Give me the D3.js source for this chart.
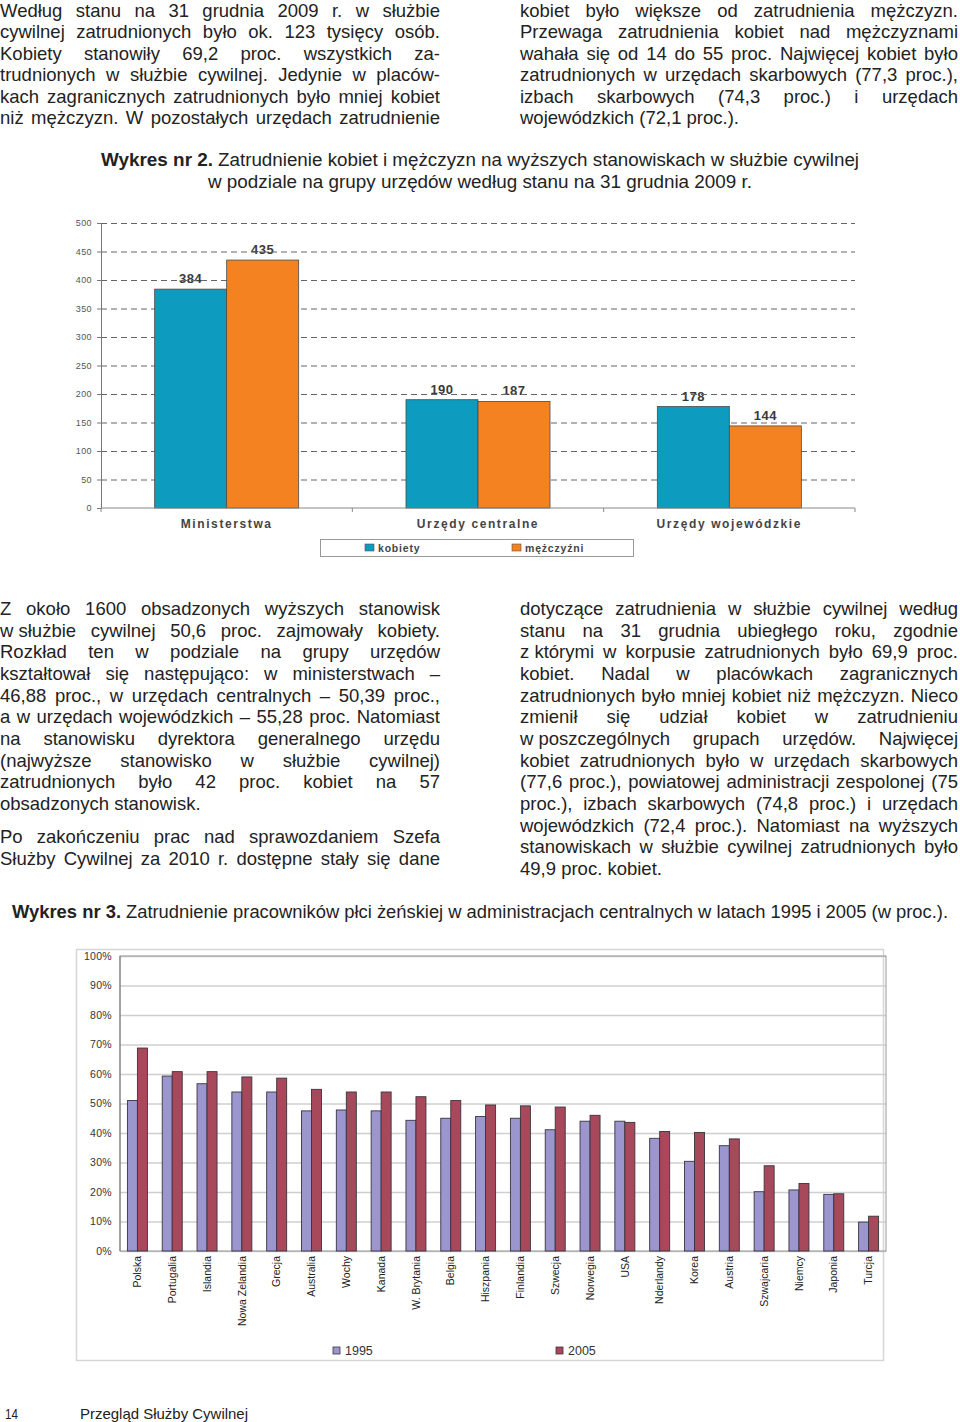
<!DOCTYPE html>
<html>
<head>
<meta charset="utf-8"/>
<title>Wykres nr 2 i 3</title>
<script src="https://cdn.jsdelivr.net/npm/d3@7"></script>
<style>
body { margin: 0; background: #fff; }
svg { display: block; font-family: "Liberation Sans", Arial, sans-serif; }
.body { font-size: 18.5px; fill: #222; }
.cond { font-family: "Liberation Sans Narrow", "Liberation Sans", Arial, sans-serif; fill: #222; }
</style>
</head>
<body>
<script>
// Wykres nr 2 - dane
var groups = ["Ministerstwa", "Urzędy centralne", "Urzędy wojewódzkie"];
var kobiety = [384, 190, 178];
var mezczyzni = [435, 187, 144];
var series2 = ["kobiety", "mężczyźni"];

// Wykres nr 3 - dane (proc.)
var countries = ["Polska", "Portugalia", "Islandia", "Nowa Zelandia", "Grecja", "Australia", "Wochy", "Kanada",
  "W. Brytania", "Belgia", "Hiszpania", "Finlandia", "Szwecja", "Norwegia", "USA", "Nderlandy", "Korea",
  "Austria", "Szwajcaria", "Niemcy", "Japonia", "Turcja"];
var y1995 = [51.0, 59.3, 56.7, 53.9, 53.9, 47.5, 47.8, 47.5, 44.3, 45.0, 45.6, 45.0, 41.1, 44.0, 44.0, 38.2, 30.4, 35.7, 20.1, 20.7, 19.2, 9.8];
var y2005 = [68.8, 60.8, 60.8, 59.0, 58.6, 54.8, 53.9, 53.9, 52.3, 51.0, 49.5, 49.2, 48.8, 46.0, 43.6, 40.5, 40.2, 38.0, 28.9, 22.9, 19.4, 11.8];
var years = ["1995", "2005"];

// tekst strony
var topLeft = [
  "Według stanu na 31 grudnia 2009 r. w służbie",
  "cywilnej zatrudnionych było ok. 123 tysięcy osób.",
  "Kobiety stanowiły 69,2 proc. wszystkich za-",
  "trudnionych w służbie cywilnej. Jedynie w placów-",
  "kach zagranicznych zatrudnionych było mniej kobiet",
  "niż mężczyzn. W pozostałych urzędach zatrudnienie"];
var topRight = [
  "kobiet było większe od zatrudnienia mężczyzn.",
  "Przewaga zatrudnienia kobiet nad mężczyznami",
  "wahała się od 14 do 55 proc. Najwięcej kobiet było",
  "zatrudnionych w urzędach skarbowych (77,3 proc.),",
  "izbach skarbowych (74,3 proc.) i urzędach",
  "wojewódzkich (72,1 proc.)."];
var midLeft = [
  "Z około 1600 obsadzonych wyższych stanowisk",
  "w\u00a0służbie cywilnej 50,6 proc. zajmowały kobiety.",
  "Rozkład ten w podziale na grupy urzędów",
  "kształtował się następująco: w ministerstwach –",
  "46,88 proc., w urzędach centralnych – 50,39 proc.,",
  "a w urzędach wojewódzkich – 55,28 proc. Natomiast",
  "na stanowisku dyrektora generalnego urzędu",
  "(najwyższe stanowisko w służbie cywilnej)",
  "zatrudnionych było 42 proc. kobiet na 57",
  "obsadzonych stanowisk."];
var midLeft2 = [
  "Po zakończeniu prac nad sprawozdaniem Szefa",
  "Służby Cywilnej za 2010 r. dostępne stały się dane"];
var midRight = [
  "dotyczące zatrudnienia w służbie cywilnej według",
  "stanu na 31 grudnia ubiegłego roku, zgodnie",
  "z\u00a0którymi w korpusie zatrudnionych było 69,9 proc.",
  "kobiet. Nadal w placówkach zagranicznych",
  "zatrudnionych było mniej kobiet niż mężczyzn. Nieco",
  "zmienił się udział kobiet w zatrudnieniu",
  "w\u00a0poszczególnych grupach urzędów. Najwięcej",
  "kobiet zatrudnionych było w urzędach skarbowych",
  "(77,6 proc.), powiatowej administracji zespolonej (75",
  "proc.), izbach skarbowych (74,8 proc.) i urzędach",
  "wojewódzkich (72,4 proc.). Natomiast na wyższych",
  "stanowiskach w służbie cywilnej zatrudnionych było",
  "49,9 proc. kobiet."];

var svg = d3.select("body").append("svg")
  .attr("width", 960)
  .attr("height", 1422);

var measure = svg.append("text").attr("class", "body").attr("x", -1000).attr("y", -1000);
function wordWidth(w) {
  measure.text(w);
  return measure.node().getComputedTextLength();
}

// justowane linie tekstu
function block(lines, x0, width, y0, lh, last) {
  lines.forEach(function(line, i) {
    var t = svg.append("text").attr("class", "body").attr("y", y0 + i * lh);
    if (last.indexOf(i) >= 0) { t.attr("x", x0).text(line); return; }
    var words = line.split(" ");
    var ws = words.map(wordWidth);
    var gap = (width - d3.sum(ws)) / (words.length - 1);
    var pos = [], cx = x0;
    ws.forEach(function(w) { pos.push(cx); cx += w + gap; });
    t.selectAll("tspan").data(words).join("tspan")
      .attr("x", function(d, j) { return pos[j]; })
      .text(function(d) { return d; });
  });
}

block(topLeft, 0, 440, 17, 21.4, []);
block(topRight, 520, 438, 17, 21.4, [5]);
block(midLeft, 0, 440, 615, 21.67, [9]);
block(midLeft2, 0, 440, 843.3, 21.67, []);
block(midRight, 520, 438, 615, 21.67, [12]);

// tytuly (krój zwężony)
function cond(txt, x, y, len, bold, size) {
  svg.append("text").attr("class", "cond")
    .attr("x", x).attr("y", y)
    .attr("font-size", size || 17.5)
    .attr("font-weight", bold ? "bold" : "normal")
    .attr("textLength", len).attr("lengthAdjust", "spacingAndGlyphs")
    .text(txt);
}
cond("Wykres nr 2.", 101, 166, 112, true);
cond("Zatrudnienie kobiet i mężczyzn na wyższych stanowiskach w służbie cywilnej", 218, 166, 641, false);
cond("w podziale na grupy urzędów według stanu na 31 grudnia 2009 r.", 208, 188, 544, false);
cond("Wykres nr 3.", 12, 918, 109, true);
cond("Zatrudnienie pracowników płci żeńskiej w administracjach centralnych w latach 1995 i 2005 (w proc.).", 126, 918, 822, false);

// ---------- Wykres nr 2 ----------
var color2 = d3.scaleOrdinal().domain(series2).range(["#0d9bbf", "#f58220"]);
var x2 = d3.scaleBand().domain(groups).range([101, 855]).paddingInner(0.427).paddingOuter(0.2135);
var xi2 = d3.scaleBand().domain(series2).range([0, x2.bandwidth()]);
var y2 = d3.scaleLinear().domain([0, 500]).range([508, 223]);

var rows2 = groups.map(function(g, i) {
  return { group: g, vals: [{ s: "kobiety", v: kobiety[i] }, { s: "mężczyźni", v: mezczyzni[i] }] };
});

var c2 = svg.append("g");

// etykiety wartosci (pod liniami siatki, jak w oryginale)
rows2.forEach(function(r) {
  c2.selectAll(null).data(r.vals).enter().append("text")
    .attr("x", function(d) { return x2(r.group) + xi2(d.s) + xi2.bandwidth() / 2; })
    .attr("y", function(d) { return y2(d.v) - 6; })
    .attr("text-anchor", "middle")
    .attr("font-size", 13).attr("font-weight", "bold").attr("letter-spacing", 0.5)
    .attr("fill", "#3a3a3a")
    .text(function(d) { return d.v; });
});

// siatka
c2.append("g")
  .attr("transform", "translate(101,0)")
  .call(d3.axisLeft(y2).ticks(10).tickSize(-754).tickFormat(""))
  .call(function(g) { g.select(".domain").remove(); })
  .call(function(g) {
    g.selectAll(".tick line").attr("stroke", "#666").attr("stroke-dasharray", "6,4")
      .filter(function(d) { return d === 0; }).remove();
  });

// slupki
rows2.forEach(function(r) {
  c2.selectAll(null).data(r.vals).enter().append("rect")
    .attr("x", function(d) { return x2(r.group) + xi2(d.s); })
    .attr("y", function(d) { return y2(d.v); })
    .attr("width", xi2.bandwidth())
    .attr("height", function(d) { return y2(0) - y2(d.v); })
    .attr("fill", function(d) { return color2(d.s); })
    .attr("stroke", "#4a4a4a").attr("stroke-width", 0.8);
});

// os Y
c2.append("g")
  .attr("transform", "translate(101,0)")
  .call(d3.axisLeft(y2).ticks(10).tickSize(4).tickPadding(5))
  .call(function(g) {
    g.select(".domain").attr("stroke", "#777");
    g.selectAll(".tick line").attr("stroke", "#777");
    g.selectAll("text").attr("font-size", 9).attr("fill", "#555").attr("letter-spacing", 0.4)
      .attr("font-family", "Liberation Sans, Arial, sans-serif");
  });

// os X
c2.append("line").attr("x1", 101).attr("x2", 855).attr("y1", y2(0)).attr("y2", y2(0))
  .attr("stroke", "#888");
c2.selectAll(".xb").data(d3.range(0, groups.length + 1)).enter().append("line")
  .attr("x1", function(i) { return x2.range()[0] + i * x2.step(); })
  .attr("x2", function(i) { return x2.range()[0] + i * x2.step(); })
  .attr("y1", y2(0)).attr("y2", y2(0) + 4)
  .attr("stroke", "#888");
c2.selectAll(".xl").data(groups).enter().append("text")
  .attr("x", function(d) { return x2(d) + x2.bandwidth() / 2; })
  .attr("y", 528)
  .attr("text-anchor", "middle")
  .attr("font-size", 12).attr("font-weight", "bold").attr("letter-spacing", 1.6)
  .attr("fill", "#444")
  .text(function(d) { return d; });

// legenda
c2.append("rect").attr("x", 320.5).attr("y", 539.5).attr("width", 313).attr("height", 17)
  .attr("fill", "none").attr("stroke", "#999");
var leg2 = c2.selectAll(".lg").data(series2).enter().append("g")
  .attr("transform", function(d, i) { return "translate(" + [365, 512][i] + ",544)"; });
leg2.append("rect").attr("width", 9).attr("height", 7)
  .attr("fill", function(d) { return color2(d); }).attr("stroke", "#555").attr("stroke-width", 0.6);
leg2.append("text").attr("x", 13).attr("y", 7.5)
  .attr("font-size", 10.5).attr("font-weight", "bold").attr("letter-spacing", 0.8)
  .attr("fill", "#444")
  .text(function(d) { return d; });

// ---------- Wykres nr 3 ----------
var color3 = d3.scaleOrdinal().domain(years).range(["#9b96cd", "#a8495b"]);
var x3 = d3.scaleBand().domain(countries).range([120, 886]);
var y3 = d3.scaleLinear().domain([0, 100]).range([1251, 956]);
var barW = 10;

var c3 = svg.append("g");
c3.append("rect").attr("x", 76.5).attr("y", 949.5).attr("width", 807).attr("height", 411)
  .attr("fill", "none").attr("stroke", "#d6d6d6").attr("stroke-width", 1.5);

c3.append("g")
  .attr("transform", "translate(120,0)")
  .call(d3.axisLeft(y3).ticks(10).tickSize(-766).tickFormat(""))
  .call(function(g) {
    g.select(".domain").remove();
    g.selectAll(".tick line").attr("stroke", "#cfcfcf").attr("stroke-width", 1.3);
  });
c3.append("rect").attr("x", 120).attr("y", y3(100)).attr("width", 766).attr("height", y3(0) - y3(100))
  .attr("fill", "none").attr("stroke", "#9a9a9a");
c3.append("line").attr("x1", 120).attr("x2", 120).attr("y1", y3(100)).attr("y2", y3(0)).attr("stroke", "#777");

c3.append("g")
  .attr("transform", "translate(120,0)")
  .call(d3.axisLeft(y3).ticks(10).tickSize(0).tickPadding(8).tickFormat(function(d) { return d + "%"; }))
  .call(function(g) {
    g.select(".domain").remove();
    g.selectAll("text").attr("font-size", 10.5).attr("fill", "#333").attr("letter-spacing", 0.3)
      .attr("font-family", "Liberation Sans, Arial, sans-serif");
  });

var rows3 = countries.map(function(c, i) { return { c: c, a: y1995[i], b: y2005[i] }; });
c3.selectAll(".b95").data(rows3).enter().append("rect")
  .attr("x", function(d) { return x3(d.c) + x3.bandwidth() / 2 - barW; })
  .attr("y", function(d) { return y3(d.a); })
  .attr("width", barW)
  .attr("height", function(d) { return y3(0) - y3(d.a); })
  .attr("fill", color3("1995")).attr("stroke", "#3a3340").attr("stroke-width", 0.9);
c3.selectAll(".b05").data(rows3).enter().append("rect")
  .attr("x", function(d) { return x3(d.c) + x3.bandwidth() / 2; })
  .attr("y", function(d) { return y3(d.b); })
  .attr("width", barW)
  .attr("height", function(d) { return y3(0) - y3(d.b); })
  .attr("fill", color3("2005")).attr("stroke", "#3a3340").attr("stroke-width", 0.9);

c3.selectAll(".cl").data(countries).enter().append("text")
  .attr("transform", function(d) { return "translate(" + (x3(d) + x3.bandwidth() / 2) + ",1256) rotate(-90)"; })
  .attr("dy", "0.35em")
  .attr("text-anchor", "end")
  .attr("font-size", 10.5).attr("fill", "#222")
  .text(function(d) { return d; });

var leg3 = c3.selectAll(".lg3").data(years).enter().append("g")
  .attr("transform", function(d, i) { return "translate(" + [333, 556][i] + ",1347)"; });
leg3.append("rect").attr("width", 7).attr("height", 7)
  .attr("fill", function(d) { return color3(d); }).attr("stroke", "#3a3340").attr("stroke-width", 0.8);
leg3.append("text").attr("x", 12).attr("y", 8)
  .attr("font-size", 12.5).attr("fill", "#333")
  .text(function(d) { return d; });

// stopka
cond("14", 5, 1419, 13, false, 15);
cond("Przegląd Służby Cywilnej", 80, 1419, 168, false, 15);

measure.remove();
</script>
</body>
</html>
